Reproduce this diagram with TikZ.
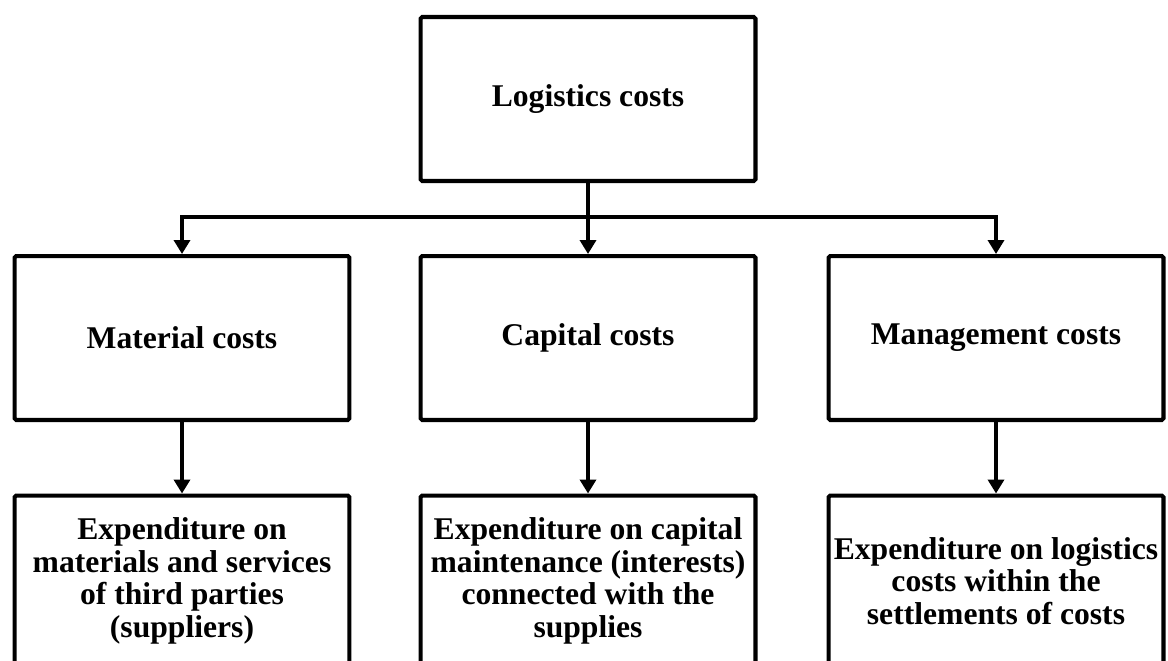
\documentclass[tikz,border=0pt]{standalone}
\usepackage{fontspec}
\setmainfont{Liberation Serif}
\usetikzlibrary{arrows.meta}

\begin{document}
\begin{tikzpicture}[
      x=0.02cm, y=-0.02cm,
      costbox/.style={
          draw=black, line width=2.3pt, rounded corners=1pt,
          fill=white, text=black,
          minimum width=6.7cm, minimum height=3.28cm, inner sep=0pt,
          align=center, font=\fontsize{18}{18.6}\selectfont\bfseries
      },
      expbox/.style={
          costbox, minimum height=3.42cm
      },
      line/.style={
          draw=black, line width=2.3pt,
          -{Triangle[width=0.32cm, length=0.28cm]}
      }
  ]
      \useasboundingbox (0,0) rectangle (1168,660);
      \clip (0,0) rectangle (1168,660);

      % Top
      \node[costbox] (logistics) at (588, 99) {Logistics costs};

      % Cost groups
      \node[costbox] (material) at (182, 338) {Material costs};
      \node[costbox] (capital) at (588, 338) {Capital costs};
      \node[costbox] (management) at (996, 338) {Management costs};

      % Expenditures (cut by the lower edge)
      \node[expbox] (matexp) at (182, 581) {Expenditure on\\materials and services\\of third parties\\(suppliers)};
      \node[expbox] (capexp) at (588, 581) {Expenditure on capital\\maintenance (interests)\\connected with the\\supplies};
      \node[expbox] (mgmtexp) at (996, 581) {Expenditure on logistics\\costs within the\\settlements of costs};

      % Links
      \coordinate (split) at (588, 217);
      \draw[line] (logistics.south) -- (capital.north);
      \draw[line] (split) -| (material.north);
      \draw[line] (split) -| (management.north);
      \draw[line] (material.south) -- (matexp.north);
      \draw[line] (capital.south) -- (capexp.north);
      \draw[line] (management.south) -- (mgmtexp.north);
  \end{tikzpicture}
\end{document}
